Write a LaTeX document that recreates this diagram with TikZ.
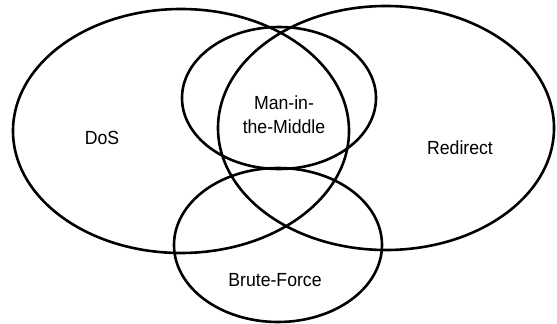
\documentclass[tikz,border=0pt]{standalone}
\usepackage{fontspec}
\setmainfont[FakeStretch=0.93]{Liberation Sans}
\begin{document}
\begin{tikzpicture}[x=1pt,y=-1pt,
  setring/.style={draw=black,line width=2.6pt},
  lbl/.style={font=\fontsize{19}{24}\selectfont,align=center,inner sep=0pt}]
\useasboundingbox (0,0) rectangle (557,324);
\fill[white] (0,0) rectangle (557,324);
\draw[setring] (181,131) ellipse [x radius=168, y radius=122];
\draw[setring] (386,128) ellipse [x radius=168, y radius=122];
\draw[setring] (279,98) ellipse [x radius=97, y radius=71];
\draw[setring] (278,245) ellipse [x radius=104, y radius=77];
\node[lbl] (dos) at (102,138) {DoS};
\node[lbl] (mitm) at (284,115) {Man-in-\\the-Middle};
\node[lbl] (redir) at (460,148) {Redirect};
\node[lbl] (brute) at (275,280) {Brute-Force};
\end{tikzpicture}
\end{document}
